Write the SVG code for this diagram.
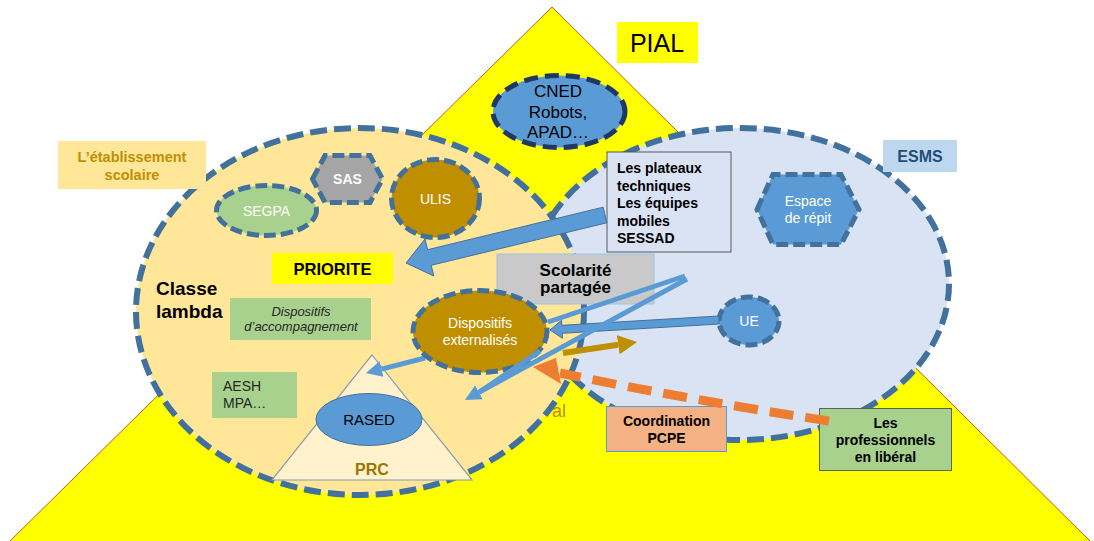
<svg xmlns="http://www.w3.org/2000/svg" width="1094" height="541" viewBox="0 0 1094 541">
<defs>
<style>
text{font-family:"Liberation Sans",Arial,sans-serif;}
.big{stroke:#41719C;stroke-width:6;stroke-dasharray:17 7;}
.small{stroke:#41719C;stroke-width:5;stroke-dasharray:12 5;}
.wt{fill:#FFFFFF;font-size:14px;text-anchor:middle;}
.bk{fill:#000000;text-anchor:middle;}
.b{font-weight:bold;}
.thin{stroke:#5B9BD5;stroke-width:5;fill:none;}
</style>
<marker id="headBlue" viewBox="0 0 10 10" refX="0" refY="5" markerWidth="3.2" markerHeight="3.4" orient="auto" markerUnits="strokeWidth">
<path d="M0,0 L10,5 L0,10 z" fill="#5B9BD5"/>
</marker>
<marker id="headGold" viewBox="0 0 10 10" refX="0" refY="5" markerWidth="3.2" markerHeight="3.2" orient="auto" markerUnits="strokeWidth">
<path d="M0,0 L10,5 L0,10 z" fill="#BF8F00"/>
</marker>
</defs>
<rect width="1094" height="541" fill="#FFFFFF"/>

<g id="pial-triangle">
<polygon points="552,7 1094,545 6,545" fill="#FFFF00" stroke="#C55A11" stroke-width="1"/>
</g>

<g id="pial-label">
<rect x="617" y="22" width="81" height="41" fill="#FFFF00"/>
<text x="657" y="52" class="bk" font-size="25">PIAL</text>
</g>

<g id="cned">
<ellipse cx="559" cy="111.5" rx="66" ry="36" fill="#5B9BD5" stroke="#1F3864" stroke-width="5" stroke-dasharray="14 7"/>
<text class="bk" font-size="17"><tspan x="558" y="97">CNED</tspan><tspan x="558" y="117.5">Robots,</tspan><tspan x="558" y="138">APAD…</tspan></text>
</g>

<g id="esms">
<ellipse cx="740" cy="284" rx="209" ry="156" fill="#DAE3F3" class="big"/>
</g>

<g id="etablissement">
<ellipse cx="360" cy="311.5" rx="224" ry="183.5" fill="#FFE699" class="big"/>
</g>

<g id="etablissement-label">
<rect x="58" y="141" width="148" height="48" fill="#FFE699"/>
<text class="b" fill="#BF9000" font-size="14.5" text-anchor="middle"><tspan x="132" y="162">L’établissement</tspan><tspan x="132" y="180">scolaire</tspan></text>
</g>

<g id="esms-label">
<rect x="883" y="140" width="74" height="32" fill="#BDD7EE"/>
<text x="920" y="162" class="b" fill="#1F4E79" font-size="16" text-anchor="middle">ESMS</text>
</g>

<g id="segpa">
<ellipse cx="266.5" cy="210.5" rx="50" ry="25" fill="#A9D18E" class="small"/>
<text x="266.5" y="216" class="wt">SEGPA</text>
</g>

<g id="sas">
<polygon points="312.5,179 325,155.5 370,155.5 382.5,179 370,202.5 325,202.5" fill="#A5A5A5" class="small"/>
<text x="347.5" y="184" class="wt b">SAS</text>
</g>

<g id="ulis">
<ellipse cx="435.5" cy="198.5" rx="44" ry="39" fill="#BF8F00" class="small"/>
<text x="435.5" y="204" class="wt">ULIS</text>
</g>

<g id="priorite">
<rect x="272" y="253" width="121" height="31" fill="#FFFF00"/>
<text x="332.5" y="275" class="bk b" font-size="16.5">PRIORITE</text>
</g>

<g id="classe-lambda">
<text class="b" fill="#000000" font-size="19"><tspan x="156" y="295">Classe</tspan><tspan x="156" y="318">lambda</tspan></text>
</g>

<g id="dispositifs-accompagnement">
<rect x="230" y="298" width="141" height="42" fill="#A9D18E"/>
<text fill="#262626" font-size="13" font-style="italic" text-anchor="middle"><tspan x="301" y="316">Dispositifs</tspan><tspan x="301" y="331">d’accompagnement</tspan></text>
</g>

<g id="aesh">
<rect x="212" y="372" width="85" height="46" fill="#A9D18E"/>
<text fill="#262626" font-size="14"><tspan x="223" y="391">AESH</tspan><tspan x="223" y="408">MPA…</tspan></text>
</g>

<g id="prc">
<polygon points="372,355 472,480 272,480" fill="#FFF2CC" stroke="#8497B0" stroke-width="1.2"/>
<text x="372" y="475" class="b" fill="#9C7400" font-size="16" text-anchor="middle">PRC</text>
</g>

<g id="rased">
<ellipse cx="369" cy="419.5" rx="53" ry="26" fill="#5B9BD5" stroke="#41719C" stroke-width="1"/>
<text x="369" y="425" class="bk" font-size="15">RASED</text>
</g>

<g id="plateaux">
<rect x="607" y="152" width="124" height="100" fill="#DAE3F3" stroke="#595959" stroke-width="1"/>
<text class="b" fill="#000000" font-size="14"><tspan x="617" y="173">Les plateaux</tspan><tspan x="617" y="190.5">techniques</tspan><tspan x="617" y="208">Les équipes</tspan><tspan x="617" y="225.5">mobiles</tspan><tspan x="617" y="243">SESSAD</tspan></text>
</g>

<g id="espace-repit">
<polygon points="757,209.5 773,174.5 841,174.5 859,209.5 841,244.5 773,244.5" fill="#5B9BD5" class="small"/>
<text class="wt"><tspan x="808" y="206">Espace</tspan><tspan x="808" y="223">de répit</tspan></text>
</g>

<g id="scolarite">
<rect x="497" y="254" width="157" height="50" fill="#C9C9C9" stroke="#9DC3E6" stroke-width="1"/>
<text class="bk b" font-size="17"><tspan x="575.5" y="276">Scolarité</tspan><tspan x="575.5" y="293">partagée</tspan></text>
</g>

<g id="ue">
<ellipse cx="749" cy="321" rx="30" ry="24" fill="#5B9BD5" class="small" stroke-width="4.5" stroke-dasharray="9 4"/>
<text x="749" y="326" class="wt">UE</text>
</g>

<g id="coordination">
<rect x="606.5" y="406.5" width="120" height="45" fill="#F4B183" stroke="#5B9BD5" stroke-width="1"/>
<text class="bk b" font-size="14"><tspan x="666.5" y="426">Coordination</tspan><tspan x="666.5" y="442.5">PCPE</tspan></text>
</g>

<g id="liberal">
<rect x="819.5" y="408.5" width="132" height="62" fill="#A9D18E" stroke="#5A6650" stroke-width="1"/>
<text class="bk b" font-size="14"><tspan x="885.5" y="428">Les</tspan><tspan x="885.5" y="445">professionnels</tspan><tspan x="885.5" y="462">en libéral</tspan></text>
</g>

<g id="al-text">
<text x="552" y="417" fill="#B8900A" font-size="18">al</text>
</g>

<g id="connectors">
<polygon points="603.2,207.2 427.6,249.7 425,239 406,263 433.8,276 431.2,265.3 606.8,222.8" fill="#5B9BD5" stroke="#41719C" stroke-width="1"/>
<line x1="685" y1="276" x2="548" y2="322" class="thin"/>
<polygon points="718.8,316 561.8,325.3 561.5,320.3 550,330 562.5,338.3 562.2,333.3 719.2,324" fill="#5B9BD5" stroke="#41719C" stroke-width="1"/>
<line x1="687" y1="279" x2="479" y2="392.3" class="thin" marker-end="url(#headBlue)"/>
<line x1="425" y1="358" x2="381.5" y2="369.1" class="thin" marker-end="url(#headBlue)"/>
<line x1="563" y1="353" x2="618.2" y2="344.8" stroke="#BF8F00" stroke-width="6" marker-end="url(#headGold)"/>
<path d="M829,421 Q690,400 560,373" fill="none" stroke="#ED7D31" stroke-width="9" stroke-dasharray="24 12"/>
<polygon points="533,367 556,358 561,384" fill="#ED7D31"/>
</g>

<g id="dispositifs-externalises">
<ellipse cx="480" cy="331.5" rx="67" ry="41" fill="#BF8F00" class="small"/>
<text class="wt"><tspan x="480" y="328">Dispositifs</tspan><tspan x="480" y="345">externalisés</tspan></text>
</g>

<g id="connectors-top">
<line x1="540" y1="351" x2="479" y2="392.3" class="thin"/>
</g>
</svg>
